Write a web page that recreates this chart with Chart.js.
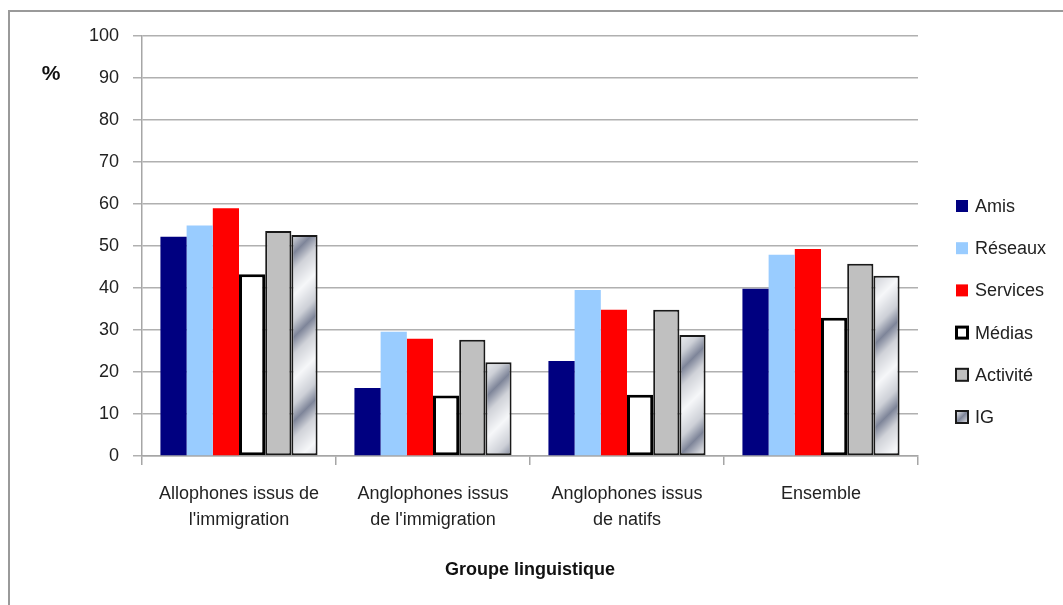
<!DOCTYPE html>
<html>
<head>
<meta charset="utf-8">
<script src="https://cdn.jsdelivr.net/npm/chart.js@4/dist/chart.umd.min.js"></script>
<style>
  html, body { margin: 0; padding: 0; background: #fff; }
  #cadre { position: absolute; left: 8px; top: 10px; width: 1060px; height: 600px;
           border-top: 2px solid #9a9a9a; border-left: 2px solid #9a9a9a; }
  #zone { position: absolute; left: 0; top: 0; width: 1063px; height: 605px; }
</style>
</head>
<body>
<div id="cadre"></div>
<div id="zone"><canvas id="grafica" width="1063" height="605"></canvas></div>
<script>
// categorias (eje X)
var groupes = [
    ["Allophones issus de", "l'immigration"],
    ["Anglophones issus", "de l'immigration"],
    ["Anglophones issus", "de natifs"],
    ["Ensemble"]
];
// valores (%)
var amis     = [52.2, 16.2, 22.6, 39.8];
var reseaux  = [54.9, 29.6, 39.5, 47.9];
var services = [59.0, 27.9, 34.8, 49.3];
var medias   = [43.3, 14.4, 14.6, 32.9];
var activite = [53.6, 27.7, 34.8, 45.8];
var ig       = [52.6, 22.3, 28.8, 42.9];
var ticksY   = [0, 10, 20, 30, 40, 50, 60, 70, 80, 90, 100];

var police = "'Liberation Sans Narrow', 'Liberation Sans', Arial, sans-serif";

//motivo metalico para la serie IG
function motifIG() {
    var P = 84;
    var c = document.createElement('canvas');
    c.width = P; c.height = P;
    var cx = c.getContext('2d');
    var img = cx.createImageData(P, P);
    // puntos de color a lo largo de la diagonal
    var stops = [[0, [246, 247, 249]], [0.3, [205, 208, 215]], [0.5, [126, 133, 153]], [0.7, [208, 210, 216]], [1, [246, 247, 249]]];
    for (var y = 0; y < P; y++) {
        for (var x = 0; x < P; x++) {
            var t = ((x + y) % P) / P;
            var k = 0;
            while (k < stops.length - 2 && t > stops[k + 1][0]) k++;
            var a = stops[k], b = stops[k + 1];
            var f = (t - a[0]) / (b[0] - a[0]);
            var i = (y * P + x) * 4;
            img.data[i]     = a[1][0] + (b[1][0] - a[1][0]) * f;
            img.data[i + 1] = a[1][1] + (b[1][1] - a[1][1]) * f;
            img.data[i + 2] = a[1][2] + (b[1][2] - a[1][2]) * f;
            img.data[i + 3] = 255;
        }
    }
    cx.putImageData(img, 0, 0);
    return document.getElementById('grafica').getContext('2d').createPattern(c, 'repeat');
}
var patronIG = motifIG();

var data = {
    labels: groupes,
    datasets: [
        { label: 'Amis', data: amis, backgroundColor: '#000080', borderWidth: 0 },
        { label: 'Réseaux', data: reseaux, backgroundColor: '#99ccff', borderWidth: 0 },
        { label: 'Services', data: services, backgroundColor: '#ff0000', borderWidth: 0 },
        { label: 'Médias', data: medias, backgroundColor: '#ffffff', borderColor: '#000000', borderWidth: 3, borderSkipped: false },
        { label: 'Activité', data: activite, backgroundColor: '#c0c0c0', borderColor: '#1a1a1a', borderWidth: 2, borderSkipped: false },
        { label: 'IG', data: ig, backgroundColor: patronIG, borderColor: '#1a1a1a', borderWidth: 2, borderSkipped: false }
    ]
};

// leyenda y simbolo % dibujados a mano
var extras = {
    id: 'extras',
    afterDraw: function (chart) {
        var ctx = chart.ctx;
        ctx.save();
        ctx.fillStyle = '#111';
        ctx.font = 'bold 21px ' + police;
        ctx.textAlign = 'center';
        ctx.textBaseline = 'middle';
        ctx.fillText('%', 51, 74);
        ctx.font = '18px ' + police;
        ctx.textAlign = 'left';
        var y0 = 206;
        chart.data.datasets.forEach(function (ds, i) {
            var y = y0 + i * 42.2;
            var bw = ds.borderWidth || 0;
            if (ds.label === 'IG') {
                //degradado pequeño para la muestra
                var g = ctx.createLinearGradient(956, y - 6, 968, y + 6);
                g.addColorStop(0, '#f4f5f7');
                g.addColorStop(0.5, '#7e8599');
                g.addColorStop(1, '#e8e9ed');
                ctx.fillStyle = g;
            } else {
                ctx.fillStyle = ds.backgroundColor;
            }
            ctx.fillRect(956, y - 6, 12, 12);
            if (bw > 0) {
                ctx.lineWidth = bw;
                ctx.strokeStyle = ds.borderColor;
                ctx.strokeRect(956 + bw / 2 - 1, y - 6 + bw / 2 - 1, 14 - bw, 14 - bw);
            }
            ctx.fillStyle = '#222';
            ctx.fillText(ds.label, 975, y + 1);
        });
        ctx.restore();
    }
};

var ctx = document.getElementById('grafica').getContext('2d');
var miGrafico = new Chart(ctx, {
    type: 'bar',
    data: data,
    plugins: [extras],
    options: {
        responsive: false,
        animation: false,
        layout: { padding: { left: 0, right: 145, top: 36, bottom: 0 } },
        plugins: { legend: { display: false }, tooltip: { enabled: false } },
        datasets: { bar: { categoryPercentage: 0.81, barPercentage: 1.0 } },
        scales: {
            x: {
                grid: { offset: true, drawOnChartArea: false, drawTicks: true, tickLength: 9, color: '#a6a6a6', lineWidth: 1.5 },
                border: { display: true, color: '#a6a6a6', width: 1.5 },
                ticks: { color: '#222', font: { family: police, size: 18, lineHeight: 1.45 }, padding: 16, maxRotation: 0, autoSkip: false },
                title: { display: true, text: 'Groupe linguistique', color: '#111', font: { family: police, size: 18, weight: 'bold' }, padding: { top: 10, bottom: 24 } },
                afterFit: function (scale) { scale.height = 149; }
            },
            y: {
                min: 0, max: 100,
                afterBuildTicks: function (scale) { scale.ticks = ticksY.map(function (v) { return { value: v }; }); },
                grid: { color: '#b0b0b0', lineWidth: 1.5, tickLength: 9 },
                border: { display: true, color: '#a6a6a6', width: 1.5 },
                ticks: { color: '#222', font: { family: police, size: 18 }, padding: 14 },
                afterFit: function (scale) { scale.width = 142; }
            }
        }
    }
});
</script>
</body>
</html>
